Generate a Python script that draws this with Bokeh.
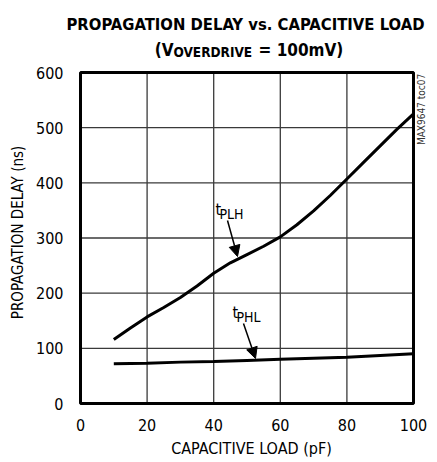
import math
from bokeh.plotting import figure
from bokeh.models import Label, Arrow, NormalHead, FixedTicker, Range1d, LinearAxis
from bokeh.embed import file_html
from bokeh.resources import INLINE

# ---- data ----
cap_plh = [10, 15, 20, 25, 30, 35, 40, 45, 50, 55, 60, 65, 70, 75, 80, 85, 90, 95, 100]
tplh = [116, 137, 157, 174, 192, 213, 236, 255, 270, 285, 302, 324, 349, 377, 407, 437, 467, 497, 525]
cap_phl = [10, 20, 30, 40, 50, 60, 70, 80, 90, 100]
tphl = [72, 73, 75, 76, 78, 80, 82, 84, 87, 90]
x_ticks = [0, 20, 40, 60, 80, 100]
y_ticks = [0, 100, 200, 300, 400, 500, 600]
x_lo, x_hi = 0, 100
y_lo, y_hi = 0, 600

FONT = "DejaVu Sans Condensed"

W, H = 435, 460
# plot box in canvas pixels
BL, BR, BT, BB = 80, 413, 72, 403
sx = (BR - BL) / (x_hi - x_lo)
sy = (BB - BT) / (y_hi - y_lo)
def dx(px):
    return x_lo + (px - BL) / sx
def dy(py):
    return y_lo + (BB - py) / sy

p = figure(width=W, height=H, min_border=0,
           x_range=Range1d(dx(0), dx(W)), y_range=Range1d(dy(H), dy(0)),
           x_axis_type=None, y_axis_type=None,
           output_backend="svg", toolbar_location=None)
p.background_fill_color = "white"
p.border_fill_color = "white"
p.outline_line_color = None
p.xgrid.visible = False
p.ygrid.visible = False

xa = LinearAxis(fixed_location=y_lo, bounds=(x_lo, x_hi), ticker=FixedTicker(ticks=x_ticks))
ya = LinearAxis(fixed_location=x_lo, bounds=(y_lo, y_hi), ticker=FixedTicker(ticks=y_ticks))
for ax in (xa, ya):
    ax.axis_line_color = None
    ax.major_tick_line_color = None
    ax.minor_tick_line_color = None
    ax.major_label_text_font = FONT
    ax.major_label_text_font_size = "16px"
    ax.major_label_text_color = "black"
xa.major_label_standoff = 9
ya.major_label_standoff = 11
p.add_layout(xa, "below")
p.add_layout(ya, "left")

# grid lines
vx = x_ticks[1:-1]
p.segment(x0=vx, y0=[y_lo] * len(vx), x1=vx, y1=[y_hi] * len(vx), line_color="#3a3a3a", line_width=1.3)
hy = y_ticks[1:-1]
p.segment(x0=[x_lo] * len(hy), y0=hy, x1=[x_hi] * len(hy), y1=hy, line_color="#3a3a3a", line_width=1.3)

p.line(cap_plh, tplh, line_color="black", line_width=3)
p.line(cap_phl, tphl, line_color="black", line_width=3)

# plot box
p.quad(left=[x_lo], right=[x_hi], bottom=[y_lo], top=[y_hi], fill_color=None,
       line_color="black", line_width=3)

def lab(text, px, py, size, bold=False, align="left", baseline="alphabetic", angle=0,
        color="black"):
    p.add_layout(Label(x=dx(px), y=dy(py), text=text, text_font=FONT,
                       text_font_size=size, text_font_style="bold" if bold else "normal",
                       text_align=align, text_baseline=baseline, angle=angle,
                       text_color=color))

# titles
lab("PROPAGATION DELAY vs. CAPACITIVE LOAD", 245, 24, "16.5px", bold=True, align="center")
lab("(V", 173, 49, "17px", bold=True, align="right")
lab("OVERDRIVE", 173, 51, "13.5px", bold=True, align="left")
lab("= 100mV)", 258, 49, "17px", bold=True, align="left")

# axis labels
lab("PROPAGATION DELAY (ns)", 17, 232, "15px", align="center", baseline="middle", angle=math.pi / 2)
lab("CAPACITIVE LOAD (pF)", 251, 448, "16px", align="center", baseline="middle")

# side note
lab("MAX9647 toc07", 421, 109, "10px", align="center", baseline="middle", angle=math.pi / 2, color="#333333")

# curve labels
lab("t", 215, 209, "16px")
lab("PLH", 219, 213, "14px")
lab("t", 232, 312, "16px")
lab("PHL", 236, 316, "14px")

# arrows
p.add_layout(Arrow(x_start=dx(227), y_start=dy(220), x_end=dx(237), y_end=dy(256),
                   line_width=1.5, line_color="black",
                   end=NormalHead(size=11, fill_color="black", line_color="black")))
p.add_layout(Arrow(x_start=dx(243), y_start=dy(323), x_end=dx(255), y_end=dy(358),
                   line_width=1.5, line_color="black",
                   end=NormalHead(size=11, fill_color="black", line_color="black")))

open("out.html", "w").write(file_html(p, INLINE))
